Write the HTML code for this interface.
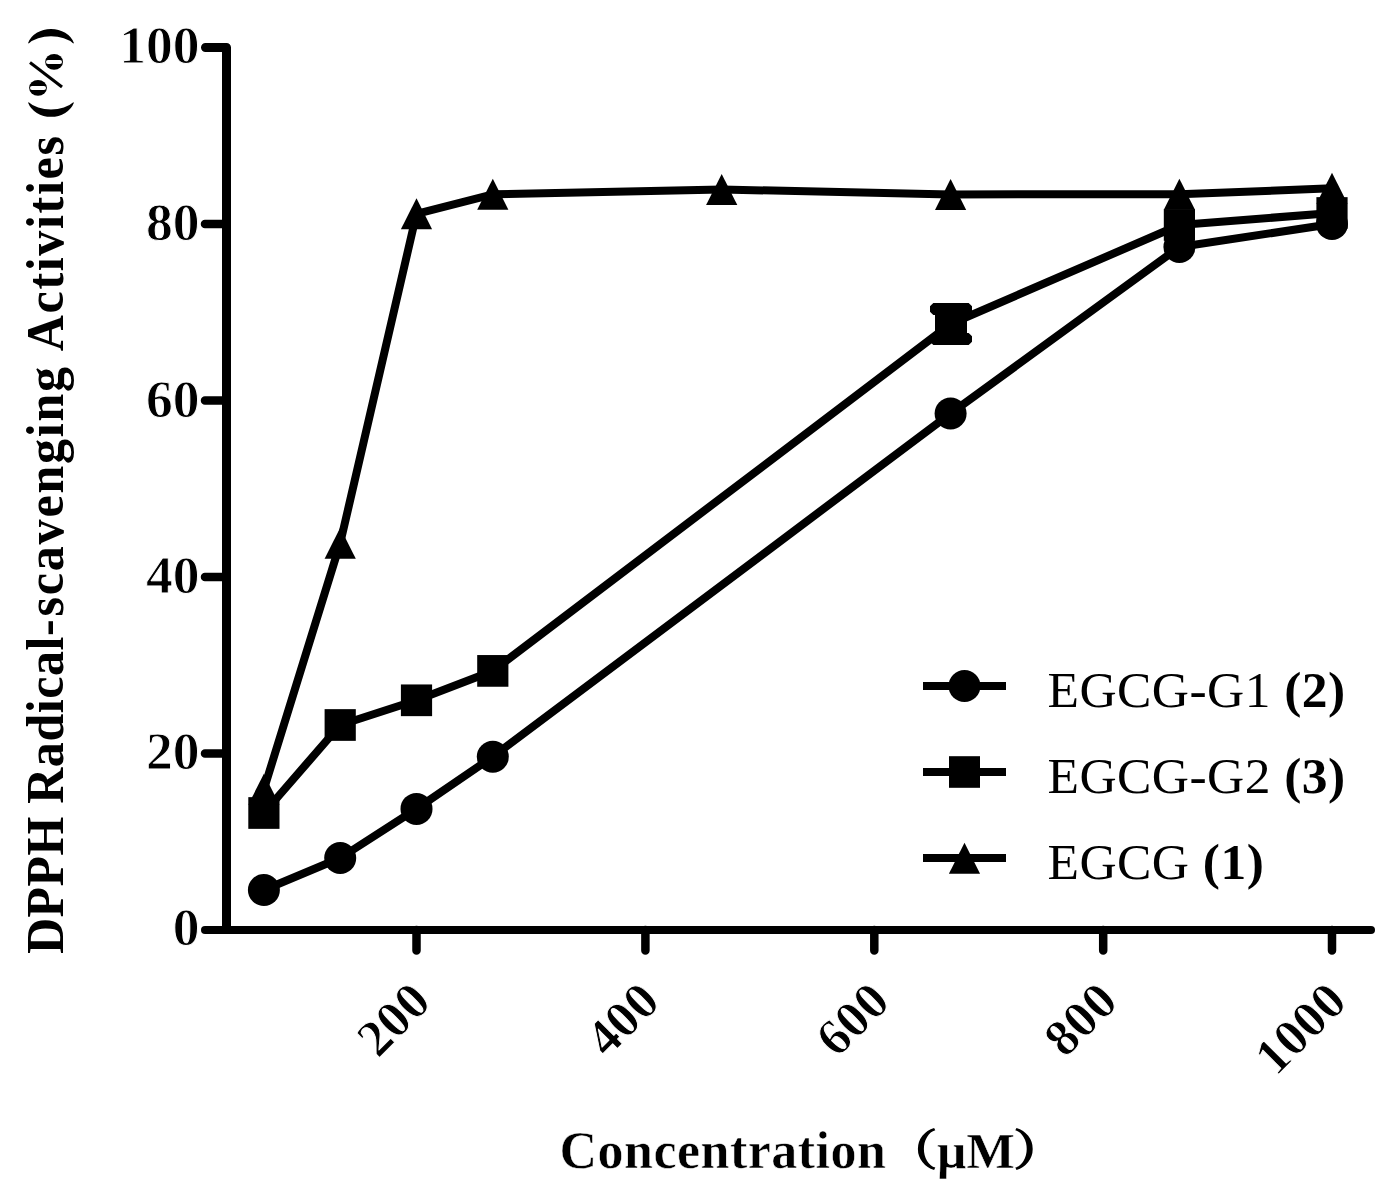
<!DOCTYPE html>
<html><head><meta charset="utf-8">
<style>
html,body{margin:0;padding:0;background:#fff;}
body{width:1393px;height:1193px;overflow:hidden;}
svg{display:block;}
text{font-family:"Liberation Serif",serif;fill:#000;}
.b{font-weight:bold;}
.t9{stroke:#fff;stroke-width:0.9px;stroke-linejoin:round;}
.t5{stroke:#fff;stroke-width:0.5px;stroke-linejoin:round;}
</style></head><body>
<svg width="1393" height="1193" viewBox="0 0 1393 1193">
<rect width="1393" height="1193" fill="#fff"/>
<!-- axes -->
<g stroke="#000" fill="none" stroke-linecap="round" stroke-linejoin="round">
  <path d="M205.5 47.5 H226.5 V926" stroke-width="9"/>
  <path d="M205 930 H1371" stroke-width="8"/>
  <path d="M205 224 H226 M205 400.5 H226 M205 577 H226 M205 753.5 H226" stroke-width="8.5"/>
  <path d="M416.5 930 V950.5 M645.4 930 V950.5 M874.3 930 V950.5 M1103.2 930 V950.5 M1332 930 V950.5" stroke-width="8.5"/>
</g>
<!-- y tick labels -->
<g class="b t9" font-size="51.8" text-anchor="end">
  <text transform="translate(199.6 63) scale(1.035 1)">100</text>
  <text transform="translate(199.6 240) scale(1.035 1)">80</text>
  <text transform="translate(199.6 416.7) scale(1.035 1)">60</text>
  <text transform="translate(199.6 593.2) scale(1.035 1)">40</text>
  <text transform="translate(199.6 768.7) scale(1.035 1)">20</text>
  <text transform="translate(199.6 945) scale(1.035 1)">0</text>
</g>
<!-- x tick labels rotated -->
<g class="b t9" font-size="51.8" text-anchor="end">
  <text transform="translate(433 1004) rotate(-45) scale(1.0 1)">200</text>
  <text transform="translate(662 1004) rotate(-45) scale(1.0 1)">400</text>
  <text transform="translate(892 1004) rotate(-45) scale(1.0 1)">600</text>
  <text transform="translate(1120 1004) rotate(-45) scale(1.0 1)">800</text>
  <text transform="translate(1349 1004) rotate(-45) scale(1.0 1)">1000</text>
</g>
<!-- data lines -->
<g stroke="#000" fill="none" stroke-width="8" stroke-linejoin="round">
  <polyline points="263.9,890 340.2,858 416.5,808.9 492.8,756.7 950.6,413.5 1179.4,247 1332,224"/>
  <polyline points="263.9,813 340.2,725 416.5,700.3 492.8,670.9 950.6,324 1179.4,225 1332,213"/>
  <polyline points="263.9,789.2 340.2,543.2 416.5,213.8 492.8,194.3 721.7,189.5 950.6,194.4 1179.4,194.3 1332,188.3"/>
</g>
<!-- markers -->
<g fill="#000">
  <!-- triangles -->
  <path d="M0 -15.5 L15.6 15.5 L-15.6 15.5 Z" transform="translate(263.9 789.2)"/>
  <path d="M0 -15.5 L15.6 15.5 L-15.6 15.5 Z" transform="translate(340.2 543.2)"/>
  <path d="M0 -15.5 L15.6 15.5 L-15.6 15.5 Z" transform="translate(416.5 213.8)"/>
  <path d="M0 -15.5 L15.6 15.5 L-15.6 15.5 Z" transform="translate(492.8 194.3)"/>
  <path d="M0 -15.5 L15.6 15.5 L-15.6 15.5 Z" transform="translate(721.7 189.5)"/>
  <path d="M0 -15.5 L15.6 15.5 L-15.6 15.5 Z" transform="translate(950.6 194.4)"/>
  <path d="M0 -15.5 L15.6 15.5 L-15.6 15.5 Z" transform="translate(1179.4 194.3)"/>
  <path d="M0 -15.5 L15.6 15.5 L-15.6 15.5 Z" transform="translate(1332 188.3)"/>
  <!-- squares -->
  <rect x="248.30" y="797.15" width="31.2" height="31.7"/>
  <rect x="324.60" y="709.15" width="31.2" height="31.7"/>
  <rect x="400.90" y="684.45" width="31.2" height="31.7"/>
  <rect x="477.20" y="655.05" width="31.2" height="31.7"/>
  <rect x="935" y="308.15" width="32" height="31.7"/>
  <rect x="1163.80" y="209.15" width="31.2" height="31.7"/>
  <rect x="1316.40" y="197.15" width="31.2" height="31.7"/>
  <!-- error bar caps at 950.6 -->
  <path d="M933.3 303 H968.7 L972 306.3 V311.7 L968.7 315 H933.3 L930 311.7 V306.3 Z"/>
  <path d="M933.3 333 H968.7 L972 336.3 V341.7 L968.7 345 H933.3 L930 341.7 V336.3 Z"/>
  <!-- circles -->
  <circle cx="263.9" cy="890" r="16"/>
  <circle cx="340.2" cy="858" r="16"/>
  <circle cx="416.5" cy="808.9" r="16"/>
  <circle cx="492.8" cy="756.7" r="16"/>
  <circle cx="950.6" cy="413.5" r="16"/>
  <circle cx="1179.4" cy="247" r="16"/>
  <circle cx="1332" cy="224" r="16"/>
</g>
<!-- legend -->
<g stroke="#000" stroke-width="8">
  <line x1="923" y1="686" x2="1006" y2="686"/>
  <line x1="923" y1="772" x2="1006" y2="772"/>
  <line x1="923" y1="858" x2="1006" y2="858"/>
</g>
<g fill="#000">
  <circle cx="964.5" cy="686" r="16"/>
  <rect x="949" y="756.2" width="31" height="31.6"/>
  <path d="M0 -15.5 L15.6 15.5 L-15.6 15.5 Z" transform="translate(964.5 858.3)"/>
</g>
<g font-size="51.5" letter-spacing="0.45">
  <text x="1047.5" y="707.2">EGCG-G1 <tspan class="b">(2)</tspan></text>
  <text x="1047.5" y="792.9">EGCG-G2 <tspan class="b">(3)</tspan></text>
  <text x="1047.5" y="879">EGCG <tspan class="b">(1)</tspan></text>
</g>
<!-- x axis title -->
<text class="b t5" font-size="52" letter-spacing="0.48" x="559.5" y="1168">Concentration</text>
<text class="b t5" font-size="51.5" x="937" y="1168">μM</text>
<path d="M934.1 1127.9 A23.08 22 0 0 0 934.1 1169.9 L935.3 1167.5 A14.34 19 0 0 1 935.3 1130.3 Z"/>
<path d="M1016.5 1127.9 A23.08 22 0 0 1 1016.5 1169.9 L1015.3 1167.5 A14.34 19 0 0 0 1015.3 1130.3 Z"/>
<!-- y axis title -->
<g class="b" font-size="50">
<text transform="translate(63.2 954) rotate(-90) scale(1 1.035)" letter-spacing="0.4">DPPH</text>
<text transform="translate(63.2 803.8) rotate(-90) scale(1 1.035)" letter-spacing="0.56">Radical-</text>
<text transform="translate(63.2 616.5) rotate(-90) scale(1 1.035)" letter-spacing="1.81">scavenging</text>
<text transform="translate(63.2 351.3) rotate(-90) scale(1 1.035)" letter-spacing="1.7">Activities</text>
</g>
<!-- (%) -->
<path d="M28.1 102.8 A24 20 0 0 0 73.9 102.8 L73.3 102.2 A26 14.8 0 0 1 28.7 102.2 Z"/>
<path d="M28.1 42.9 A24 20 0 0 1 73.9 42.9 L73.3 43.5 A26 14.8 0 0 0 28.7 43.5 Z"/>
<g>
  <ellipse cx="54.1" cy="61.9" rx="8.9" ry="7.9"/>
  <ellipse cx="38" cy="87.8" rx="8.9" ry="7.9"/>
  <rect x="46" y="60.1" width="16" height="4" rx="2" fill="#fff"/>
  <rect x="30" y="86" width="16" height="4" rx="2" fill="#fff"/>
  <line x1="30" y1="62.5" x2="62" y2="87" stroke="#000" stroke-width="3"/>
</g>
</svg>
</body></html>
